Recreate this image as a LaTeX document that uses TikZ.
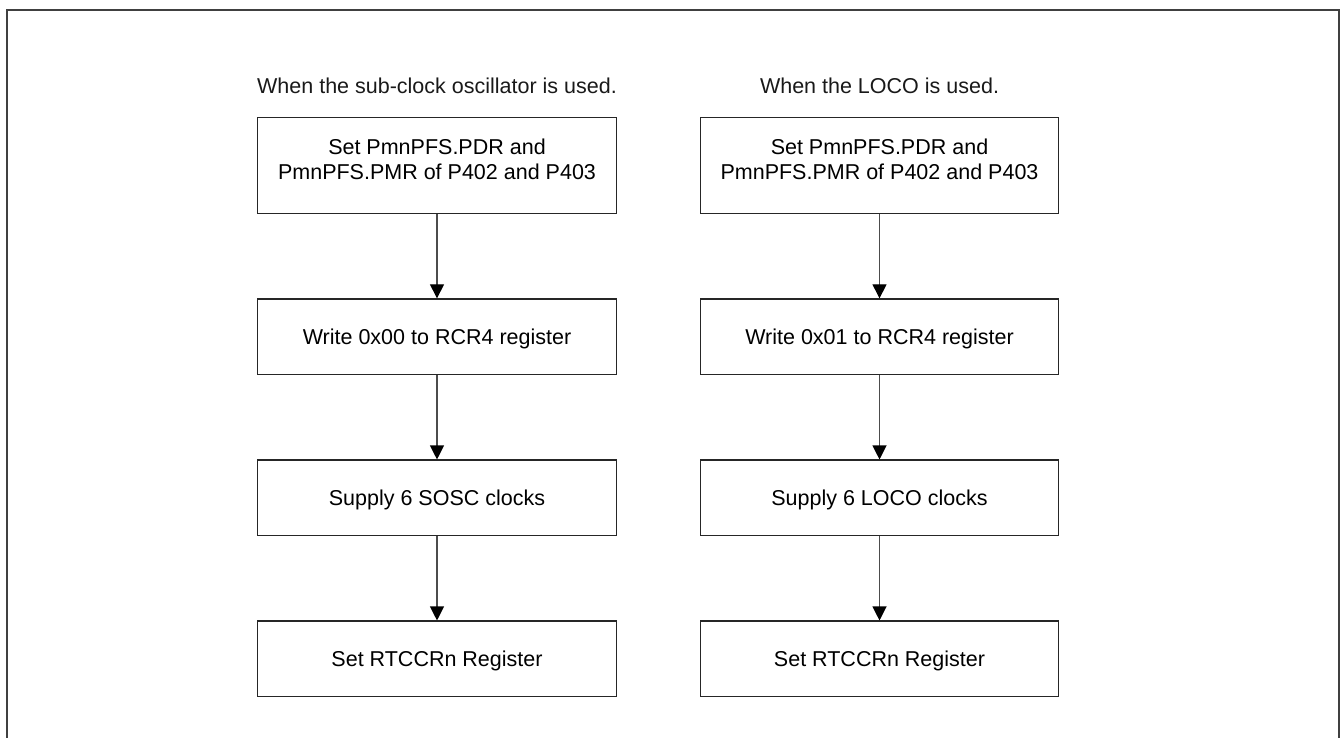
\documentclass[tikz,border=0pt]{standalone}
\usepackage{fontspec}
\setmainfont{Liberation Sans}
\usetikzlibrary{arrows.meta}
\begin{document}
\begin{tikzpicture}[x=1pt,y=-1pt,
  stepbox/.style={draw=black!85, line width=1.2pt, minimum width=358.5pt, minimum height=75.6pt, inner sep=0pt,
    font=\fontsize{21.5}{25}\selectfont, text height=15.4pt, text depth=0pt},
  titletext/.style={font=\fontsize{21.5}{25}\selectfont, anchor=base, inner sep=0pt, text=black!90},
  flow/.style={draw=black!70, line width=1.1pt, -{Triangle[width=14pt,length=14pt,color=black]}}]
\useasboundingbox (0,0) rectangle (1340,738);
\draw[black!75, line width=2pt] (7,738) -- (7,10) -- (1339,10) -- (1339,738);

\node[titletext] (tl) at (437,93.3) {When the sub-clock oscillator is used.};
\node[titletext] (tr) at (879.5,93.3) {When the LOCO is used.};

\node[stepbox, minimum height=96pt, align=center, text height=29.4pt] (l1) at (437,165.3) {Set PmnPFS.PDR and\\PmnPFS.PMR of P402 and P403};
\node[stepbox] (l2) at (437,336.75) {Write 0x00 to RCR4 register};
\node[stepbox] (l3) at (437,497.85) {Supply 6 SOSC clocks};
\node[stepbox] (l4) at (437,658.85) {Set RTCCRn Register};

\node[stepbox, minimum height=96pt, align=center, text height=29.4pt] (r1) at (879.5,165.3) {Set PmnPFS.PDR and\\PmnPFS.PMR of P402 and P403};
\node[stepbox] (r2) at (879.5,336.75) {Write 0x01 to RCR4 register};
\node[stepbox] (r3) at (879.5,497.85) {Supply 6 LOCO clocks};
\node[stepbox] (r4) at (879.5,658.85) {Set RTCCRn Register};

\draw[flow] (l1) -- (l2);
\draw[flow] (l2) -- (l3);
\draw[flow] (l3) -- (l4);
\draw[flow] (r1) -- (r2);
\draw[flow] (r2) -- (r3);
\draw[flow] (r3) -- (r4);
\end{tikzpicture}
\end{document}
